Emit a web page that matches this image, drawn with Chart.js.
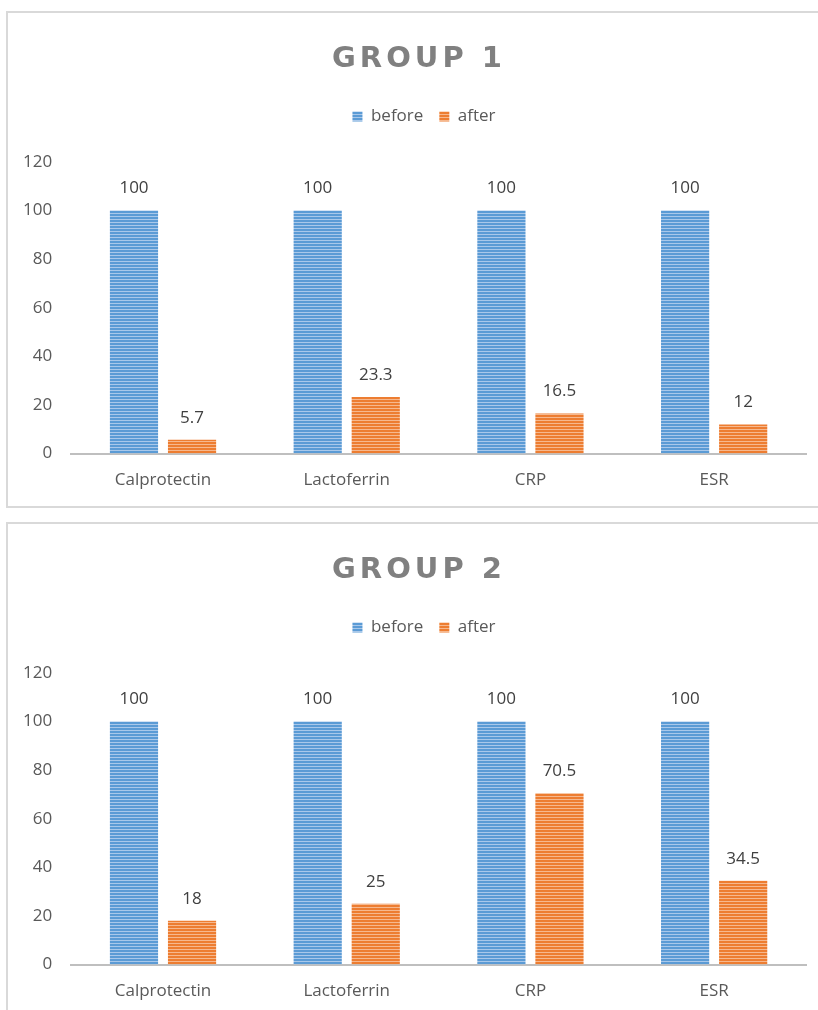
<!DOCTYPE html>
<html>
<head>
<meta charset="utf-8">
<title>Group 1 / Group 2</title>
<script src="https://cdn.jsdelivr.net/npm/chart.js@4"></script>
<style>
  body {
    margin: 0;
    width: 818px;
    height: 1010px;
    overflow: hidden;
    position: relative;
    background: #fff;
    font-family: 'Open Sans';
  }
  .panel {
    position: absolute;
    left: 6px;
    width: 828px;
    height: 493px;
    border: 2px solid #d9d9d9;
    background: #fff;
  }
  .panel h2 {
    position: absolute;
    left: 0;
    right: 0;
    top: 27px;
    margin: 0 0 0 -6px;
    line-height: 40px;
    text-align: center;
    font: bold 29px 'DejaVu Sans';
    letter-spacing: 4px;
    color: #808080;
    z-index: 2;
  }
  .chart-box {
    position: absolute;
    left: 0; top: 0;
    width: 828px;
    height: 493px;
  }
</style>
</head>
<body>

<div class="panel" style="top:11px">
    <h2>GROUP 1</h2>
    <div class="chart-box"><canvas id="group1_chart"></canvas></div>
</div>

<div class="panel" style="top:522px">
    <h2>GROUP 2</h2>
    <div class="chart-box"><canvas id="group2_chart"></canvas></div>
</div>

<script>
// data
const markers = ['Calprotectin', 'Lactoferrin', 'CRP', 'ESR'];
const seriesNames = ['before', 'after'];
const group1Before = [100, 100, 100, 100];
const group1After = [5.7, 23.3, 16.5, 12];
const group2Before = [100, 100, 100, 100];
const group2After = [18, 25, 70.5, 34.5];
const yTicks = [0, 20, 40, 60, 80, 100, 120];

// striped fill like the excel pattern
function stripes(dark, light) {
    const c = document.createElement('canvas');
    c.width = 4;
    c.height = 3;
    const g = c.getContext('2d');
    g.fillStyle = dark;
    g.fillRect(0, 0, 4, 2);
    g.fillStyle = light;
    g.fillRect(0, 2, 4, 1);
    return g.createPattern(c, 'repeat');
}

const bluePattern = stripes('#5b9bd5', '#a9c8ea');
const orangePattern = stripes('#ed7d31', '#f6b88e');

const valueLabels = {
    id: 'valueLabels',
    afterDatasetsDraw(chart) {
        const ctx = chart.ctx;
        ctx.save();
        ctx.font = '17px "Open Sans"';
        ctx.fillStyle = '#404040';
        ctx.textAlign = 'center';
        ctx.textBaseline = 'middle';
        chart.data.datasets.forEach((ds, i) => {
            chart.getDatasetMeta(i).data.forEach((bar, j) => {
                ctx.fillText(String(ds.data[j]), bar.x, bar.y - 22);
            });
        });
        ctx.restore();
    }
};

// extra room under the legend, and nudge it to the middle of the box
const legendGap = {
    id: 'legendGap',
    beforeInit(chart) {
        const lg = chart.legend;
        const fit = lg.fit;
        lg.fit = function () {
            fit.call(lg);
            lg.height += 27;
        };
        const draw = lg.draw;
        lg.draw = function () {
            lg.ctx.save();
            lg.ctx.translate(19, 0);
            draw.call(lg);
            lg.ctx.restore();
        };
    }
};

function makeChart(id, before, after) {
    const ctx = document.getElementById(id).getContext('2d');
    return new Chart(ctx, {
        type: 'bar',
        data: {
            labels: markers,
            datasets: [{
                label: seriesNames[0],
                data: before,
                backgroundColor: bluePattern,
                borderWidth: 0
            }, {
                label: seriesNames[1],
                data: after,
                backgroundColor: orangePattern,
                borderWidth: 0
            }]
        },
        options: {
            responsive: true,
            maintainAspectRatio: false,
            animation: false,
            categoryPercentage: 0.632,
            barPercentage: 0.83,
            layout: {
                padding: { top: 79, left: -4, right: 30, bottom: 0 }
            },
            scales: {
                x: {
                    grid: { display: false, drawTicks: false },
                    border: { display: true, color: '#bfbfbf', width: 2 },
                    ticks: {
                        padding: 16,
                        color: '#595959',
                        font: { family: 'Open Sans', size: 17 }
                    }
                },
                y: {
                    min: 0,
                    max: 120,
                    afterBuildTicks(axis) {
                        axis.ticks = yTicks.map(v => ({ value: v }));
                    },
                    grid: { display: false, drawTicks: false },
                    border: { display: false },
                    ticks: {
                        padding: 19,
                        color: '#595959',
                        font: { family: 'Open Sans', size: 17 }
                    }
                }
            },
            plugins: {
                legend: {
                    position: 'top',
                    labels: {
                        boxWidth: 10,
                        boxHeight: 10,
                        padding: 16,
                        color: '#595959',
                        font: { family: 'Open Sans', size: 17 }
                    }
                },
                tooltip: { enabled: false }
            }
        },
        plugins: [valueLabels, legendGap]
    });
}

makeChart('group1_chart', group1Before, group1After);
makeChart('group2_chart', group2Before, group2After);
</script>

</body>
</html>
